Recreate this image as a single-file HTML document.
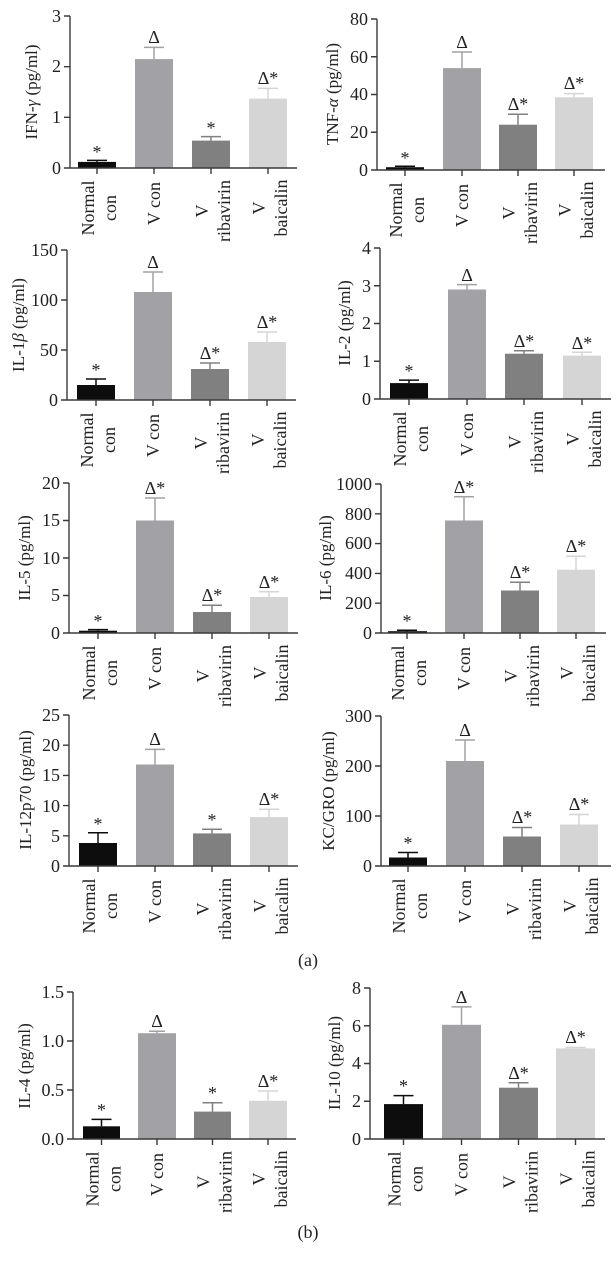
<!DOCTYPE html>
<html><head><meta charset="utf-8"><style>
html,body{margin:0;padding:0;background:#fff;}
svg{display:block;}
text{font-family:"Liberation Serif","DejaVu Serif",serif;font-size:18px;fill:#222;}
.ax{stroke:#3a3a3a;stroke-width:1.4;fill:none;}
.n{fill:#0d0d0d}.c{fill:#a2a2a6}.r{fill:#808080}.b{fill:#d5d5d5}
.en{stroke:#0d0d0d;stroke-width:1.5;fill:none}.ec{stroke:#a2a2a6;stroke-width:1.5;fill:none}.er{stroke:#808080;stroke-width:1.5;fill:none}.eb{stroke:#d5d5d5;stroke-width:1.5;fill:none}
.t{text-anchor:end}.m{text-anchor:middle}
.yt{font-size:17px}
</style></head><body>
<svg width="616" height="1264" viewBox="0 0 616 1264" xmlns="http://www.w3.org/2000/svg">

<!-- P1 IFN-gamma -->
<g transform="translate(70,168)">
<rect class="n" x="8" y="-6.1" width="38" height="6.1"/><rect class="c" x="65" y="-108.9" width="38" height="108.9"/><rect class="r" x="122" y="-27.4" width="38" height="27.4"/><rect class="b" x="179" y="-69.4" width="38" height="69.4"/>
<path class="en" d="M27,-6.1V-7.6M17,-7.6H37"/><path class="ec" d="M84,-108.9V-120.6M74,-120.6H94"/><path class="er" d="M141,-27.4V-31.4M131,-31.4H151"/><path class="eb" d="M198,-69.4V-79.6M188,-79.6H208"/>
<text class="m" x="27" y="-10">*</text><text class="m" x="84" y="-125">Δ</text><text class="m" x="141" y="-34">*</text><text class="m" x="198" y="-84">Δ*</text>
<path class="ax" d="M0,-152V0H227M-6,0H0M-6,-50.7H0M-6,-101.3H0M-6,-152H0M27,0V6M84,0V6M141,0V6M198,0V6"/>
<text class="t" x="-9" y="6">0</text><text class="t" x="-9" y="-45">1</text><text class="t" x="-9" y="-96">2</text><text class="t" x="-9" y="-146">3</text>
<text class="m yt" transform="translate(-33,-76) rotate(-90)">IFN-<tspan font-style="italic">γ</tspan> (pg/ml)</text>
<text class="m" transform="translate(27,40) rotate(-90)"><tspan x="0" y="-3">Normal</tspan><tspan x="0" y="19">con</tspan></text>
<text class="t" transform="translate(84,14) rotate(-90)" y="6">V con</text>
<text class="m" transform="translate(141,43) rotate(-90)"><tspan x="0" y="-3">V</tspan><tspan x="0" y="19">ribavirin</tspan></text>
<text class="m" transform="translate(198,40) rotate(-90)"><tspan x="0" y="-3">V</tspan><tspan x="0" y="19">baicalin</tspan></text>
</g>

<!-- P2 TNF-alpha -->
<g transform="translate(377,170)">
<rect class="n" x="9" y="-2.8" width="38" height="2.8"/><rect class="c" x="66" y="-101.9" width="38" height="101.9"/><rect class="r" x="122" y="-45.3" width="38" height="45.3"/><rect class="b" x="178" y="-72.7" width="38" height="72.7"/>
<path class="en" d="M28,-2.8V-3.8M18,-3.8H38"/><path class="ec" d="M85,-101.9V-118M75,-118H95"/><path class="er" d="M141,-45.3V-55.7M131,-55.7H151"/><path class="eb" d="M197,-72.7V-76.4M187,-76.4H207"/>
<text class="m" x="28" y="-6">*</text><text class="m" x="85" y="-122">Δ</text><text class="m" x="141" y="-60">Δ*</text><text class="m" x="197" y="-81">Δ*</text>
<path class="ax" d="M0,-151V0H228M-6,0H0M-6,-37.75H0M-6,-75.5H0M-6,-113.25H0M-6,-151H0M28,0V6M85,0V6M141,0V6M197,0V6"/>
<text class="t" x="-9" y="6">0</text><text class="t" x="-9" y="-32">20</text><text class="t" x="-9" y="-70">40</text><text class="t" x="-9" y="-107">60</text><text class="t" x="-9" y="-145">80</text>
<text class="m yt" transform="translate(-39,-76) rotate(-90)">TNF-<tspan font-style="italic">α</tspan> (pg/ml)</text>
<text class="m" transform="translate(28,40) rotate(-90)"><tspan x="0" y="-3">Normal</tspan><tspan x="0" y="19">con</tspan></text>
<text class="t" transform="translate(85,14) rotate(-90)" y="6">V con</text>
<text class="m" transform="translate(141,43) rotate(-90)"><tspan x="0" y="-3">V</tspan><tspan x="0" y="19">ribavirin</tspan></text>
<text class="m" transform="translate(197,40) rotate(-90)"><tspan x="0" y="-3">V</tspan><tspan x="0" y="19">baicalin</tspan></text>
</g>

<!-- P3 IL-1beta -->
<g transform="translate(67,400)">
<rect class="n" x="10" y="-15" width="38" height="15"/><rect class="c" x="67" y="-108" width="38" height="108"/><rect class="r" x="124" y="-31" width="38" height="31"/><rect class="b" x="181" y="-58" width="38" height="58"/>
<path class="en" d="M29,-15V-21M19,-21H39"/><path class="ec" d="M86,-108V-128M76,-128H96"/><path class="er" d="M143,-31V-37M133,-37H153"/><path class="eb" d="M200,-58V-68M190,-68H210"/>
<text class="m" x="29" y="-24">*</text><text class="m" x="86" y="-132">Δ</text><text class="m" x="143" y="-41">Δ*</text><text class="m" x="200" y="-72">Δ*</text>
<path class="ax" d="M0,-150V0H229M-6,0H0M-6,-50H0M-6,-100H0M-6,-150H0M29,0V6M86,0V6M143,0V6M200,0V6"/>
<text class="t" x="-9" y="6">0</text><text class="t" x="-9" y="-44">50</text><text class="t" x="-9" y="-94">100</text><text class="t" x="-9" y="-144">150</text>
<text class="m yt" transform="translate(-43,-75) rotate(-90)">IL-1<tspan font-style="italic">β</tspan> (pg/ml)</text>
<text class="m" transform="translate(29,40) rotate(-90)"><tspan x="0" y="-3">Normal</tspan><tspan x="0" y="19">con</tspan></text>
<text class="t" transform="translate(86,14) rotate(-90)" y="6">V con</text>
<text class="m" transform="translate(143,43) rotate(-90)"><tspan x="0" y="-3">V</tspan><tspan x="0" y="19">ribavirin</tspan></text>
<text class="m" transform="translate(200,40) rotate(-90)"><tspan x="0" y="-3">V</tspan><tspan x="0" y="19">baicalin</tspan></text>
</g>

<!-- P4 IL-2 -->
<g transform="translate(380,399)">
<rect class="n" x="10" y="-15.9" width="38" height="15.9"/><rect class="c" x="68" y="-109.5" width="38" height="109.5"/><rect class="r" x="125" y="-45.3" width="38" height="45.3"/><rect class="b" x="183" y="-43.4" width="38" height="43.4"/>
<path class="en" d="M29,-15.9V-18.9M19,-18.9H39"/><path class="ec" d="M87,-109.5V-114.4M77,-114.4H97"/><path class="er" d="M144,-45.3V-48.3M134,-48.3H154"/><path class="eb" d="M202,-43.4V-46.8M192,-46.8H212"/>
<text class="m" x="29" y="-22">*</text><text class="m" x="87" y="-118">Δ</text><text class="m" x="144" y="-52">Δ*</text><text class="m" x="202" y="-50">Δ*</text>
<path class="ax" d="M0,-151V0H231M-6,0H0M-6,-37.75H0M-6,-75.5H0M-6,-113.25H0M-6,-151H0M29,0V6M87,0V6M144,0V6M202,0V6"/>
<text class="t" x="-9" y="6">0</text><text class="t" x="-9" y="-32">1</text><text class="t" x="-9" y="-70">2</text><text class="t" x="-9" y="-107">3</text><text class="t" x="-9" y="-145">4</text>
<text class="m yt" transform="translate(-30,-76) rotate(-90)">IL-2 (pg/ml)</text>
<text class="m" transform="translate(29,40) rotate(-90)"><tspan x="0" y="-3">Normal</tspan><tspan x="0" y="19">con</tspan></text>
<text class="t" transform="translate(87,14) rotate(-90)" y="6">V con</text>
<text class="m" transform="translate(144,43) rotate(-90)"><tspan x="0" y="-3">V</tspan><tspan x="0" y="19">ribavirin</tspan></text>
<text class="m" transform="translate(202,40) rotate(-90)"><tspan x="0" y="-3">V</tspan><tspan x="0" y="19">baicalin</tspan></text>
</g>

<!-- P5 IL-5 -->
<g transform="translate(69,633)">
<rect class="n" x="10" y="-2.3" width="38" height="2.3"/><rect class="c" x="67" y="-112.5" width="38" height="112.5"/><rect class="r" x="124" y="-21" width="38" height="21"/><rect class="b" x="181" y="-36" width="38" height="36"/>
<path class="en" d="M29,-2.3V-3.4M19,-3.4H39"/><path class="ec" d="M86,-112.5V-135M76,-135H96"/><path class="er" d="M143,-21V-27.8M133,-27.8H153"/><path class="eb" d="M200,-36V-41.3M190,-41.3H210"/>
<text class="m" x="29" y="-6">*</text><text class="m" x="86" y="-139">Δ*</text><text class="m" x="143" y="-32">Δ*</text><text class="m" x="200" y="-45">Δ*</text>
<path class="ax" d="M0,-150V0H229M-6,0H0M-6,-37.5H0M-6,-75H0M-6,-112.5H0M-6,-150H0M29,0V6M86,0V6M143,0V6M200,0V6"/>
<text class="t" x="-9" y="6">0</text><text class="t" x="-9" y="-32">5</text><text class="t" x="-9" y="-69">10</text><text class="t" x="-9" y="-107">15</text><text class="t" x="-9" y="-144">20</text>
<text class="m yt" transform="translate(-39,-75) rotate(-90)">IL-5 (pg/ml)</text>
<text class="m" transform="translate(29,40) rotate(-90)"><tspan x="0" y="-3">Normal</tspan><tspan x="0" y="19">con</tspan></text>
<text class="t" transform="translate(86,14) rotate(-90)" y="6">V con</text>
<text class="m" transform="translate(143,43) rotate(-90)"><tspan x="0" y="-3">V</tspan><tspan x="0" y="19">ribavirin</tspan></text>
<text class="m" transform="translate(200,40) rotate(-90)"><tspan x="0" y="-3">V</tspan><tspan x="0" y="19">baicalin</tspan></text>
</g>

<!-- P6 IL-6 -->
<g transform="translate(381,633)">
<rect class="n" x="7" y="-1.8" width="39" height="1.8"/><rect class="c" x="64" y="-112.5" width="38" height="112.5"/><rect class="r" x="120" y="-42.5" width="38" height="42.5"/><rect class="b" x="176" y="-63.3" width="38" height="63.3"/>
<path class="en" d="M26,-1.8V-2.7M16,-2.7H36"/><path class="ec" d="M83,-112.5V-136.3M73,-136.3H93"/><path class="er" d="M139,-42.5V-50.7M129,-50.7H149"/><path class="eb" d="M195,-63.3V-76.7M185,-76.7H205"/>
<text class="m" x="26" y="-6">*</text><text class="m" x="83" y="-140">Δ*</text><text class="m" x="139" y="-55">Δ*</text><text class="m" x="195" y="-81">Δ*</text>
<path class="ax" d="M0,-149V0H225M-6,0H0M-6,-29.8H0M-6,-59.6H0M-6,-89.4H0M-6,-119.2H0M-6,-149H0M26,0V6M83,0V6M139,0V6M195,0V6"/>
<text class="t" x="-9" y="6">0</text><text class="t" x="-9" y="-24">200</text><text class="t" x="-9" y="-54">400</text><text class="t" x="-9" y="-84">600</text><text class="t" x="-9" y="-113">800</text><text class="t" x="-9" y="-143">1000</text>
<text class="m yt" transform="translate(-50,-75) rotate(-90)">IL-6 (pg/ml)</text>
<text class="m" transform="translate(26,40) rotate(-90)"><tspan x="0" y="-3">Normal</tspan><tspan x="0" y="19">con</tspan></text>
<text class="t" transform="translate(83,14) rotate(-90)" y="6">V con</text>
<text class="m" transform="translate(139,43) rotate(-90)"><tspan x="0" y="-3">V</tspan><tspan x="0" y="19">ribavirin</tspan></text>
<text class="m" transform="translate(195,40) rotate(-90)"><tspan x="0" y="-3">V</tspan><tspan x="0" y="19">baicalin</tspan></text>
</g>

<!-- P7 IL-12p70 -->
<g transform="translate(69,866)">
<rect class="n" x="10" y="-23" width="38" height="23"/><rect class="c" x="67" y="-101.5" width="38" height="101.5"/><rect class="r" x="124" y="-32.6" width="38" height="32.6"/><rect class="b" x="181" y="-48.9" width="38" height="48.9"/>
<path class="en" d="M29,-23V-33.2M19,-33.2H39"/><path class="ec" d="M86,-101.5V-116.6M76,-116.6H96"/><path class="er" d="M143,-32.6V-36.8M133,-36.8H153"/><path class="eb" d="M200,-48.9V-56.8M190,-56.8H210"/>
<text class="m" x="29" y="-36">*</text><text class="m" x="86" y="-121">Δ</text><text class="m" x="143" y="-40">*</text><text class="m" x="200" y="-61">Δ*</text>
<path class="ax" d="M0,-151V0H229M-6,0H0M-6,-30.2H0M-6,-60.4H0M-6,-90.6H0M-6,-120.8H0M-6,-151H0M29,0V6M86,0V6M143,0V6M200,0V6"/>
<text class="t" x="-9" y="6">0</text><text class="t" x="-9" y="-24">5</text><text class="t" x="-9" y="-54">10</text><text class="t" x="-9" y="-85">15</text><text class="t" x="-9" y="-115">20</text><text class="t" x="-9" y="-145">25</text>
<text class="m yt" transform="translate(-38,-76) rotate(-90)">IL-12p70 (pg/ml)</text>
<text class="m" transform="translate(29,40) rotate(-90)"><tspan x="0" y="-3">Normal</tspan><tspan x="0" y="19">con</tspan></text>
<text class="t" transform="translate(86,14) rotate(-90)" y="6">V con</text>
<text class="m" transform="translate(143,43) rotate(-90)"><tspan x="0" y="-3">V</tspan><tspan x="0" y="19">ribavirin</tspan></text>
<text class="m" transform="translate(200,40) rotate(-90)"><tspan x="0" y="-3">V</tspan><tspan x="0" y="19">baicalin</tspan></text>
</g>

<!-- P8 KC/GRO -->
<g transform="translate(381,866)">
<rect class="n" x="8" y="-8.5" width="38" height="8.5"/><rect class="c" x="65" y="-105" width="38" height="105"/><rect class="r" x="122" y="-29.5" width="38" height="29.5"/><rect class="b" x="179" y="-41.5" width="38" height="41.5"/>
<path class="en" d="M27,-8.5V-13.5M17,-13.5H37"/><path class="ec" d="M84,-105V-126M74,-126H94"/><path class="er" d="M141,-29.5V-38.5M131,-38.5H151"/><path class="eb" d="M198,-41.5V-51.5M188,-51.5H208"/>
<text class="m" x="27" y="-17">*</text><text class="m" x="84" y="-130">Δ</text><text class="m" x="141" y="-43">Δ*</text><text class="m" x="198" y="-56">Δ*</text>
<path class="ax" d="M0,-150V0H230M-6,0H0M-6,-50H0M-6,-100H0M-6,-150H0M27,0V6M84,0V6M141,0V6M198,0V6"/>
<text class="t" x="-9" y="6">0</text><text class="t" x="-9" y="-44">100</text><text class="t" x="-9" y="-94">200</text><text class="t" x="-9" y="-144">300</text>
<text class="m yt" transform="translate(-47,-75) rotate(-90)">KC/GRO (pg/ml)</text>
<text class="m" transform="translate(27,40) rotate(-90)"><tspan x="0" y="-3">Normal</tspan><tspan x="0" y="19">con</tspan></text>
<text class="t" transform="translate(84,14) rotate(-90)" y="6">V con</text>
<text class="m" transform="translate(141,43) rotate(-90)"><tspan x="0" y="-3">V</tspan><tspan x="0" y="19">ribavirin</tspan></text>
<text class="m" transform="translate(198,40) rotate(-90)"><tspan x="0" y="-3">V</tspan><tspan x="0" y="19">baicalin</tspan></text>
</g>

<text class="m" x="308" y="966">(a)</text>

<!-- P9 IL-4 -->
<g transform="translate(73,1139)">
<rect class="n" x="10" y="-12.7" width="37" height="12.7"/><rect class="c" x="65" y="-105.8" width="38" height="105.8"/><rect class="r" x="121" y="-27.4" width="37" height="27.4"/><rect class="b" x="176" y="-38.2" width="38" height="38.2"/>
<path class="en" d="M28.5,-12.7V-19.6M18.5,-19.6H38.5"/><path class="ec" d="M84,-105.8V-107.8M76,-107.8H92"/><path class="er" d="M139.5,-27.4V-36.3M129.5,-36.3H149.5"/><path class="eb" d="M195,-38.2V-48M185,-48H205"/>
<text class="m" x="28.5" y="-23">*</text><text class="m" x="84" y="-112">Δ</text><text class="m" x="139.5" y="-40">*</text><text class="m" x="195" y="-52">Δ*</text>
<path class="ax" d="M0,-147V0H223M-6,0H0M-6,-49H0M-6,-98H0M-6,-147H0M28.5,0V6M84,0V6M139.5,0V6M195,0V6"/>
<text class="t" x="-9" y="6">0.0</text><text class="t" x="-9" y="-43">0.5</text><text class="t" x="-9" y="-92">1.0</text><text class="t" x="-9" y="-141">1.5</text>
<text class="m yt" transform="translate(-43,-73) rotate(-90)">IL-4 (pg/ml)</text>
<text class="m" transform="translate(28.5,40) rotate(-90)"><tspan x="0" y="-3">Normal</tspan><tspan x="0" y="19">con</tspan></text>
<text class="t" transform="translate(84,14) rotate(-90)" y="6">V con</text>
<text class="m" transform="translate(139.5,43) rotate(-90)"><tspan x="0" y="-3">V</tspan><tspan x="0" y="19">ribavirin</tspan></text>
<text class="m" transform="translate(195,40) rotate(-90)"><tspan x="0" y="-3">V</tspan><tspan x="0" y="19">baicalin</tspan></text>
</g>

<!-- P10 IL-10 -->
<g transform="translate(370,1139)">
<rect class="n" x="14" y="-34.9" width="39" height="34.9"/><rect class="c" x="72" y="-114.2" width="39" height="114.2"/><rect class="r" x="129" y="-51.3" width="39" height="51.3"/><rect class="b" x="186" y="-90.6" width="39" height="90.6"/>
<path class="en" d="M33.5,-34.9V-43.4M23.5,-43.4H43.5"/><path class="ec" d="M91.5,-114.2V-132.1M81.5,-132.1H101.5"/><path class="er" d="M148.5,-51.3V-56.2M138.5,-56.2H158.5"/><path class="eb" d="M205.5,-90.6V-91.5M195.5,-91.5H215.5"/>
<text class="m" x="33.5" y="-47">*</text><text class="m" x="91.5" y="-136">Δ</text><text class="m" x="148.5" y="-60">Δ*</text><text class="m" x="205.5" y="-96">Δ*</text>
<path class="ax" d="M0,-151V0H235M-6,0H0M-6,-37.75H0M-6,-75.5H0M-6,-113.25H0M-6,-151H0M33.5,0V6M91.5,0V6M148.5,0V6M205.5,0V6"/>
<text class="t" x="-9" y="6">0</text><text class="t" x="-9" y="-32">2</text><text class="t" x="-9" y="-70">4</text><text class="t" x="-9" y="-107">6</text><text class="t" x="-9" y="-145">8</text>
<text class="m yt" transform="translate(-30,-76) rotate(-90)">IL-10 (pg/ml)</text>
<text class="m" transform="translate(33.5,40) rotate(-90)"><tspan x="0" y="-3">Normal</tspan><tspan x="0" y="19">con</tspan></text>
<text class="t" transform="translate(91.5,14) rotate(-90)" y="6">V con</text>
<text class="m" transform="translate(148.5,43) rotate(-90)"><tspan x="0" y="-3">V</tspan><tspan x="0" y="19">ribavirin</tspan></text>
<text class="m" transform="translate(205.5,40) rotate(-90)"><tspan x="0" y="-3">V</tspan><tspan x="0" y="19">baicalin</tspan></text>
</g>

<text class="m" x="308" y="1238">(b)</text>
</svg>
</body></html>
